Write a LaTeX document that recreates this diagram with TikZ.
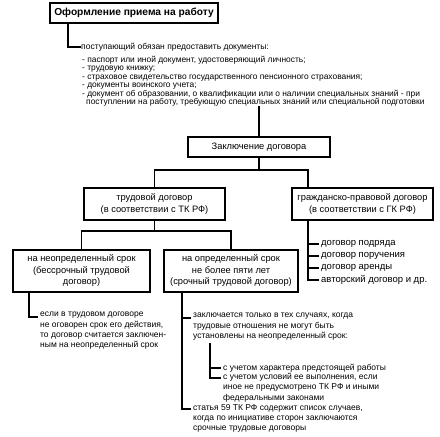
\documentclass[tikz,border=0pt]{standalone}
\usepackage{fontspec}
\setmainfont{Liberation Sans}
\begin{document}
\begin{tikzpicture}[x=1pt,y=-1pt,
  box/.style={draw, line width=1.9pt, align=center, inner sep=0pt, font=\fontsize{9.3}{11.5}\selectfont},
  conn/.style={line width=1.9pt},
  small/.style={font=\fontsize{8.4}{8.4}\selectfont, align=left, inner sep=0pt, anchor=north west},
  smallb/.style={font=\fontsize{8.5}{10.3}\selectfont, align=left, inner sep=0pt, anchor=north west},
  item/.style={font=\fontsize{8.5}{8.3}\selectfont, inner sep=0pt, anchor=west},
  citem/.style={font=\fontsize{9.5}{11}\selectfont, inner sep=0pt, anchor=west}]
\useasboundingbox (0,0) rectangle (440,437);
% boxes
\node[box, minimum width=168pt, minimum height=20pt, font=\bfseries\fontsize{10.2}{11}\selectfont] (title) at (134,13) {Оформление приема на работу};
\node[box, minimum width=142pt, minimum height=20pt] (contract) at (259,147) {Заключение договора};
\node[box, minimum width=141pt, minimum height=32pt] (labour) at (154.5,204) {трудовой договор\\(в соответствии с ТК РФ)};
\node[box, minimum width=141pt, minimum height=32pt] (civil) at (362.5,204) {гражданско-правовой договор\\(в соответствии с ГК РФ)};
\node[box, minimum width=137pt, minimum height=42pt] (indef) at (81.5,271) {на неопределенный срок\\(бессрочный трудовой\\договор)};
\node[box, minimum width=134pt, minimum height=42pt] (fixed) at (231,271) {на определенный срок\\не более пяти лет\\(срочный трудовой договор)};
% documents list
\node[item] (d0) at (81,47) {поступающий обязан предоставить документы:};
\node[small] (d1) at (82,56) {- паспорт или иной документ, удостоверяющий личность;\\- трудовую книжку;\\- страховое свидетельство государственного пенсионного страхования;\\- документы воинского учета;\\- документ об образовании, о квалификации или о наличии специальных знаний - при\\\hspace*{4pt}поступлении на работу, требующую специальных знаний или специальной подготовки};
\draw[conn] ([xshift=-66pt]title.south) |- (d0.west);
\draw[conn] (d1.south -| contract.north) -- (contract.north);
% contract branches
\coordinate (cs) at ([xshift=-54.5pt]civil.south);
\draw[conn] (contract.south) -- ++(0,12) -| (labour.north);
\draw[conn] (contract.south) -- ++(0,12) -| ([xshift=-54.5pt]civil.north);
\draw[conn] (labour.south) -- ++(0,10) -| (indef.north);
\draw[conn] (labour.south) -- ++(0,10) -| (fixed.north);
% civil list
\node[citem] (c1) at (321,244) {договор подряда};
\node[citem] (c2) at (321,256) {договор поручения};
\node[citem] (c3) at (321,268) {договор аренды};
\node[citem] (c4) at (321,280) {авторский договор и др.};
\draw[conn] (cs) |- ([xshift=-2pt]c4.west);
\foreach \n in {c1,c2,c3} \draw[conn] (cs |- \n.west) -- ([xshift=-2pt]\n.west);
% indefinite list
\node[smallb] (e1) at (40,312) {если в трудовом договоре\\не оговорен срок его действия,\\то договор считается заключен-\\ным на неопределенный срок};
\draw[conn] ([xshift=-52.5pt]indef.south) |- ([yshift=-5pt,xshift=-2pt]e1.north west);
% fixed list
\coordinate (fs) at ([xshift=-49pt]fixed.south);
\node[smallb] (f1) at (193,313) {заключается только в тех случаях, когда\\трудовые отношения не могут быть\\установлены на неопределенный срок:};
\node[item] (g1) at (223,368) {с учетом характера предстоящей работы};
\node[smallb] (g2) at (223,373) {с учетом условий ее выполнения, если\\иное не предусмотрено ТК РФ и иными\\федеральными законами};
\node[smallb] (f2) at (193,404) {статья 59 ТК РФ содержит список случаев,\\когда по инициативе сторон заключаются\\срочные трудовые договоры};
\draw[conn] (fs) |- ([yshift=-5pt,xshift=-2pt]f2.north west);
\draw[conn] (fs |- f1.north west) ++(0,5) -- ([yshift=-5pt,xshift=-2pt]f1.north west);
\coordinate (gs) at (210,343);
\draw[conn] (gs) |- ([yshift=-5pt,xshift=-2pt]g2.north west);
\draw[conn] (gs |- g1.west) -- ([xshift=-2pt]g1.west);
\end{tikzpicture}
\end{document}
